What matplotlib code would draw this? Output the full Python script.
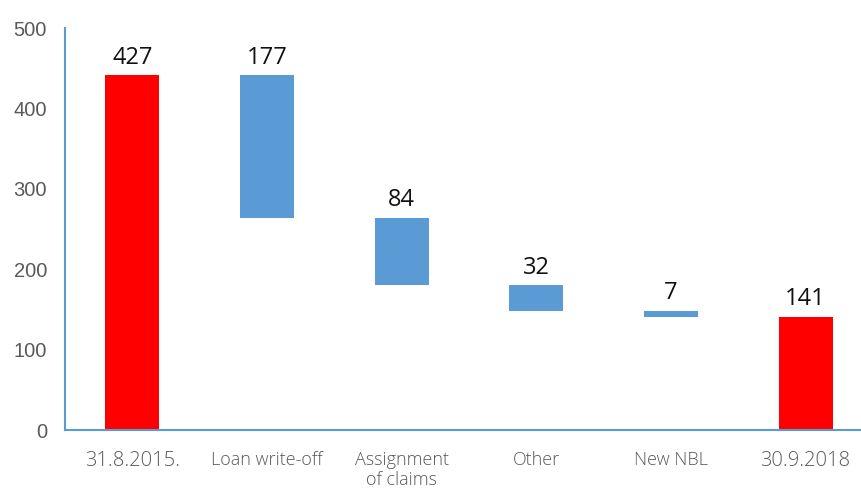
import matplotlib
matplotlib.use("Agg")
import matplotlib.pyplot as plt
import numpy as np

categories = ["31.8.2015.", "Loan write-off", "Assignment\nof claims", "Other", "New NBL", "30.9.2018"]
# drawn heights
totals_start = 441
deltas = [177, 84, 32, 7]
total_end = 141
value_labels = ["427", "177", "84", "32", "7", "141"]
yticks = [0, 100, 200, 300, 400, 500]

RED = "#FF0000"
BLUE = "#5B9BD5"
GRAY = "#595959"

fig = plt.figure(figsize=(8.61, 4.90), dpi=100)
ax = fig.add_axes([65/861, 60/490, 808/861, 402/490])

x = np.arange(len(categories))
bottoms, heights, colors = [], [], []
level = totals_start
bottoms.append(0); heights.append(totals_start); colors.append(RED)
for d in deltas:
    bottoms.append(level - d); heights.append(d); colors.append(BLUE)
    level -= d
bottoms.append(0); heights.append(total_end); colors.append(RED)

ax.bar(x, heights, bottom=bottoms, width=0.4, color=colors, edgecolor="none")
for xi, b, h, lab in zip(x, bottoms, heights, value_labels):
    ax.annotate(lab, (xi, b + h), xytext=(0, 4), textcoords="offset points",
                ha="center", va="bottom", fontsize=17, color="#111111",
                family="Open Sans")

ax.set_xlim(-0.5, 5.5)
ax.set_ylim(0, 500)
ax.set_yticks(yticks)
ax.set_yticklabels([str(v) for v in yticks], fontsize=14.5, color=GRAY, family="Liberation Sans")
ax.tick_params(axis="y", length=0, pad=13)
ax.tick_params(axis="x", length=0, pad=15)
ax.set_xticks(x)
sizes = [14.5, 13, 13, 13, 13, 14.5]
ax.set_xticklabels(categories, color=GRAY, family="Open Sans", linespacing=1.15)
for t, s in zip(ax.get_xticklabels(), sizes):
    t.set_fontsize(s)
    t.set_fontweight("light")
    t.set_va("top")

for s in ["top", "right"]:
    ax.spines[s].set_visible(False)
ax.spines["left"].set_color(BLUE)
ax.spines["left"].set_linewidth(1.5)
ax.spines["bottom"].set_color(BLUE)
ax.spines["bottom"].set_linewidth(1.5)

fig.savefig("out.png", dpi=100)
